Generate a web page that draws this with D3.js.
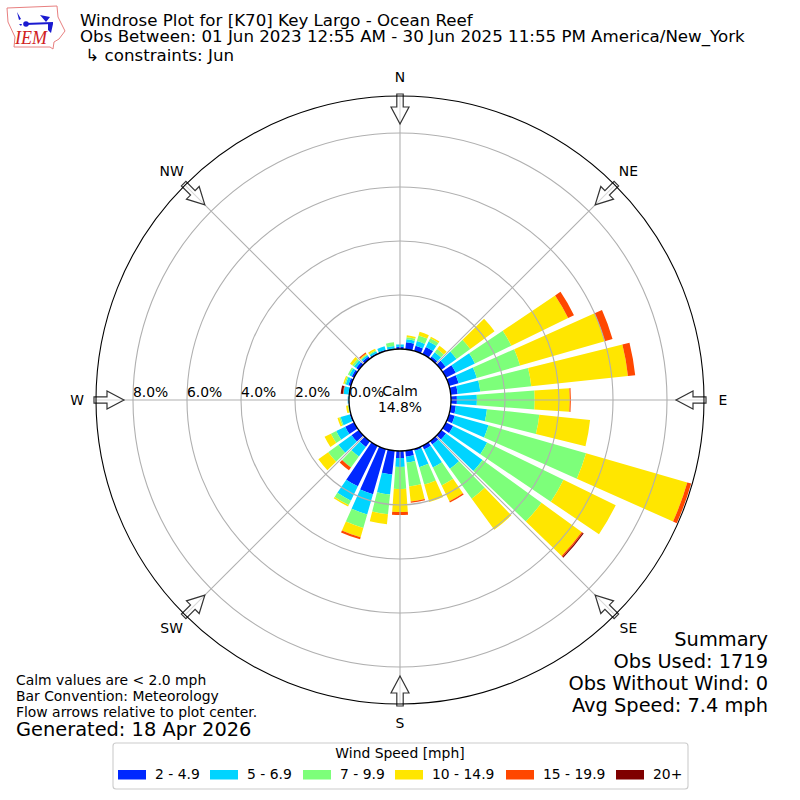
<!DOCTYPE html>
<html lang="en">
<head>
<meta charset="UTF-8">
<script src="https://d3js.org/d3.v7.min.js"></script>
<title>Windrose</title>
<style>
  body { margin: 0; background: #fff; }
  text { font-family: "DejaVu Sans", sans-serif; fill: #000; }
</style>
</head>
<body>
<script>
// percent of obs per direction bin, 0, 10, ... 350 degrees
var directions = d3.range(0, 360, 10);
var s2to5 = [.08,.26,.2,.3,.1,.2,.41,.37,.26,.22,.19,.22,.3,.22,.15,.15,.07,.22,.26,.89,1.74,1.67,.26,.33,.37,.05,.01,.02,.03,.1,.1,.12,.1,.05,.05,.03];
var s5to7 = [.09,.11,.18,.22,.2,.5,.79,.7,.84,.74,1.16,1.3,1.4,1.67,1.11,.74,.63,.22,.33,.74,.78,.59,.44,.6,.37,.35,.02,.03,.19,.1,.1,.1,.07,.07,.13,.09];
var s7to10 = [0,.08,.22,.14,.15,.63,1.5,1.67,1.9,2.14,1.95,3.76,3.15,2.7,1.37,.74,.67,.89,.82,.74,.52,.18,.5,.47,.22,.05,.02,0,0,.05,.06,.08,.03,.04,0,.14];
var s10to15 = [0,.07,.14,.06,.15,1.11,2.34,3.26,3.6,1.3,1.89,3.9,2.15,1.84,1.42,.65,.67,.56,.85,.37,.36,.06,0,.45,.26,.07,.07,0,0,.05,0,.1,.04,.06,0,0];
var s15to20 = [0,0,0,0,0,0,.24,.3,.27,.04,0,.15,0,.05,0,.05,0,.05,.11,0,.08,0,.13,0,0,0,0,0,.02,0,0,0,.04,0,0,0];
var s20up = [0,0,0,0,0,0,0,0,0,0,0,0,0,.04,0,0,0,0,0,0,0,0,0,0,0,0,0,0,.08,0,0,0,.01,0,0,0];

var speedNames = ["2 - 4.9", "5 - 6.9", "7 - 9.9", "10 - 14.9", "15 - 19.9", "20+"];
var speedColors = ["#0028ff", "#00d4ff", "#7dff7a", "#ffe600", "#ff4700", "#7f0000"];
var legendX = [118, 210, 303, 395, 506, 616];
var rTicks = [0, 2, 4, 6, 8];
var compass = ["N", "NE", "E", "SE", "S", "SW", "W", "NW"];

var titleLines = ["Windrose Plot for [K70] Key Largo - Ocean Reef",
  "Obs Between: 01 Jun 2023 12:55 AM - 30 Jun 2025 11:55 PM America/New_York",
  " \u21b3 constraints: Jun"];
var noteLines = ["Calm values are < 2.0 mph", "Bar Convention: Meteorology", "Flow arrows relative to plot center."];
var summaryLines = ["Summary", "Obs Used: 1719", "Obs Without Wind: 0", "Avg Speed: 7.4 mph"];

var cx = 400, cy = 400, hub = 51, outer = 304;
var svg = d3.select("body").append("svg").attr("width", 800).attr("height", 800);
var r = d3.scaleLinear().domain([0, 9.37]).range([hub, outer]);

var rows = directions.map(function(d, i) {
  return {dir: d, a: s2to5[i], b: s5to7[i], c: s7to10[i], d: s10to15[i], e: s15to20[i], f: s20up[i]};
});
var stacked = d3.stack().keys(["a", "b", "c", "d", "e", "f"])(rows);

var plot = svg.append("g").attr("transform", "translate(" + cx + "," + cy + ")");
var arc = d3.arc();
var half = 4 * Math.PI / 180;

// bars
stacked.forEach(function(layer, k) {
  plot.append("g").selectAll("path").data(layer).enter().append("path")
    .filter(function(d) { return d[1] > d[0]; })
    .attr("fill", speedColors[k])
    .attr("d", function(d) {
      var t = d.data.dir * Math.PI / 180;
      return arc({innerRadius: r(d[0]), outerRadius: r(d[1]), startAngle: t - half, endAngle: t + half});
    });
});

// grid goes over the bars
plot.selectAll("circle.ring").data(rTicks.slice(1)).enter().append("circle")
  .attr("r", function(d) { return r(d); })
  .attr("fill", "none").attr("stroke", "#b0b0b0").attr("stroke-width", 1.1);
plot.selectAll("line.spoke").data(d3.range(0, 360, 45)).enter().append("line")
  .attr("x1", function(d) { return hub * Math.sin(d * Math.PI / 180); })
  .attr("y1", function(d) { return -hub * Math.cos(d * Math.PI / 180); })
  .attr("x2", function(d) { return outer * Math.sin(d * Math.PI / 180); })
  .attr("y2", function(d) { return -outer * Math.cos(d * Math.PI / 180); })
  .attr("stroke", "#b0b0b0").attr("stroke-width", 1.1);

// flow arrows, pointing in
plot.selectAll("path.arrow").data(d3.range(0, 360, 45)).enter().append("path")
  .attr("d", "M0,-276 L9,-293 L3.2,-293 L3.2,-306 L-3.2,-306 L-3.2,-293 L-9,-293 Z")
  .attr("transform", function(d) { return "rotate(" + d + ")"; })
  .attr("fill", "#fff").attr("fill-opacity", 0.5)
  .attr("stroke", "#333").attr("stroke-width", 1.2);

// spines
plot.append("circle").attr("r", outer).attr("fill", "none").attr("stroke", "#000").attr("stroke-width", 1.1);
plot.append("circle").attr("r", hub).attr("fill", "#fff").attr("stroke", "#000").attr("stroke-width", 1.3);

// tick labels
plot.selectAll("text.tick").data(rTicks).enter().append("text")
  .attr("x", function(d) { return -r(d); })
  .attr("y", -3)
  .attr("font-size", 13.9)
  .text(function(d) { return d.toFixed(1) + "%"; });
plot.selectAll("text.dir").data(compass).enter().append("text")
  .attr("x", function(d, i) { return 323 * Math.sin(i * Math.PI / 4); })
  .attr("y", function(d, i) { return -323 * Math.cos(i * Math.PI / 4) + 4.5; })
  .attr("text-anchor", "middle").attr("font-size", 13.9)
  .text(function(d) { return d; });

plot.append("text").attr("y", -4).attr("text-anchor", "middle").attr("font-size", 13.9).text("Calm");
plot.append("text").attr("y", 12).attr("text-anchor", "middle").attr("font-size", 13.9).text("14.8%");

// header
svg.selectAll("text.title").data(titleLines).enter().append("text")
  .attr("x", 80).attr("y", function(d, i) { return [25.5, 42, 61][i]; })
  .attr("xml:space", "preserve").style("white-space", "pre")
  .attr("font-size", 16.67).text(function(d) { return d; });

// logo
var logo = svg.append("g");
logo.append("path")
  .attr("d", "M7,8 L57,6 L58,17 L65,31 L59,39 L54,42 L53,49 L50,47 L14,47 L15,37 L8,22 Z")
  .attr("fill", "#fff").attr("stroke", "#e88080").attr("stroke-width", 1);
logo.append("path").attr("d", "M25,24 L53,23").attr("stroke", "#1a1ad0").attr("stroke-width", 2);
logo.append("circle").attr("cx", 26).attr("cy", 24).attr("r", 2.8).attr("fill", "#1a1ad0");
logo.append("path").attr("d", "M40,15 L50,17 L46,22 Z M48,24 L53,24 L51,33 L48,30 Z M17,12 L21,19 L19,20 Z M19,24 L22,24 L21,26 Z")
  .attr("fill", "#1a1ad0");
logo.append("text").attr("x", 15).attr("y", 44).attr("font-size", 18)
  .style("font-family", "'Liberation Serif', serif").style("font-style", "italic").style("fill", "#d02020")
  .text("IEM");

// notes
svg.selectAll("text.note").data(noteLines).enter().append("text")
  .attr("x", 16).attr("y", function(d, i) { return 685 + i * 16; })
  .attr("font-size", 13.9).text(function(d) { return d; });
svg.append("text").attr("x", 16).attr("y", 736).attr("font-size", 19.4).text("Generated: 18 Apr 2026");

svg.selectAll("text.summary").data(summaryLines).enter().append("text")
  .attr("x", 768).attr("y", function(d, i) { return 646 + i * 22; })
  .attr("text-anchor", "end").attr("font-size", 19.4).text(function(d) { return d; });

// legend
svg.append("rect").attr("x", 113).attr("y", 743).attr("width", 575).attr("height", 46).attr("rx", 3)
  .attr("fill", "#fff").attr("stroke", "#ccc").attr("stroke-width", 1.1);
svg.append("text").attr("x", 400).attr("y", 758).attr("text-anchor", "middle").attr("font-size", 13.9).text("Wind Speed [mph]");
var item = svg.selectAll("g.item").data(speedNames).enter().append("g")
  .attr("transform", function(d, i) { return "translate(" + legendX[i] + ",0)"; });
item.append("rect").attr("y", 770).attr("width", 28).attr("height", 9.5)
  .attr("fill", function(d, i) { return speedColors[i]; });
item.append("text").attr("x", 37).attr("y", 779).attr("font-size", 13.9).text(function(d) { return d; });
</script>
</body>
</html>
